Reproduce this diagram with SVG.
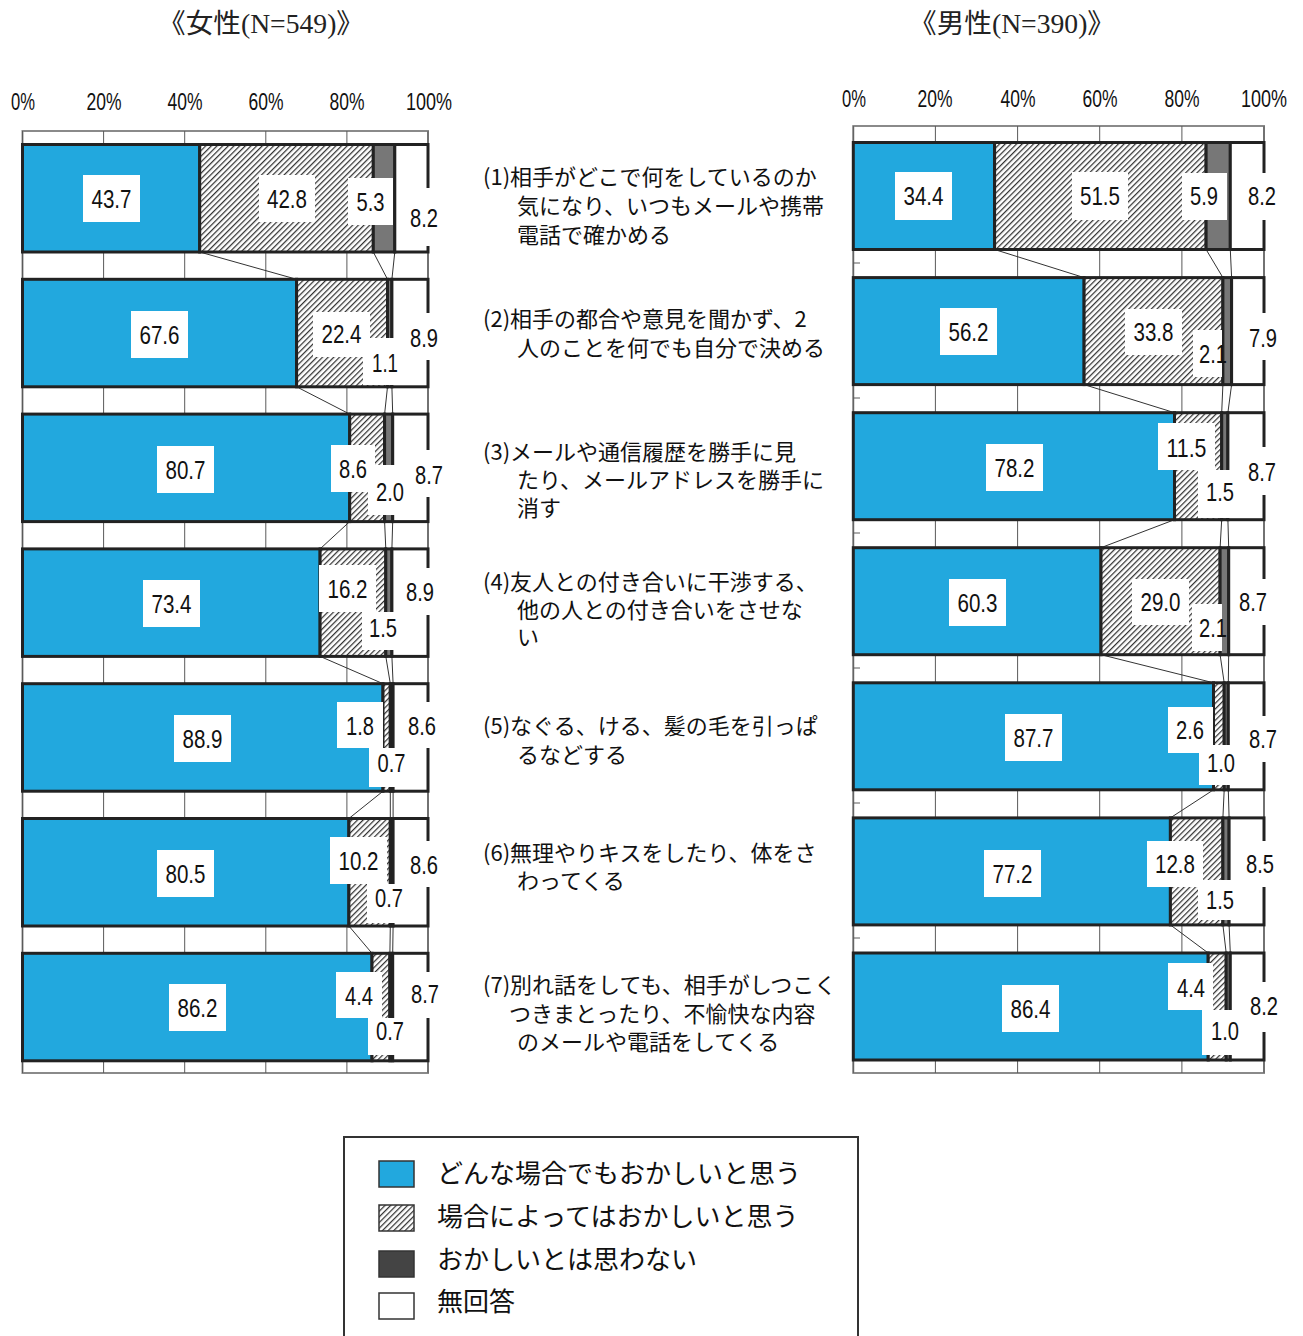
<svg xmlns="http://www.w3.org/2000/svg" width="1303" height="1336" viewBox="0 0 1303 1336">
<defs>
<pattern id="hatch" patternUnits="userSpaceOnUse" width="4" height="4" patternTransform="rotate(45)">
<rect width="4" height="4" fill="#fff"/>
<line x1="0" y1="0" x2="0" y2="4" stroke="#333" stroke-width="2.5"/>
</pattern>
<style>
.t{font-family:"Liberation Serif","Noto Sans CJK JP",serif;font-size:27px;fill:#222}
.ax{font-family:"Liberation Sans Narrow","Liberation Sans",sans-serif;font-size:23px;fill:#111;text-anchor:middle}
.frame{fill:#fff;stroke:#8a8a8a;stroke-width:2}
.grid{stroke:#5a5a5a;stroke-width:1}
.seg{stroke:#222;stroke-width:3}
.b{fill:#22a8de}.h{fill:url(#hatch)}.d{fill:#777}.w{fill:#fff}
.lb rect{fill:#fff}
.lb text{font-family:"Liberation Sans Narrow","Liberation Sans",sans-serif;font-size:25px;fill:#111;text-anchor:middle}
.cat{font-family:"Noto Sans CJK JP",sans-serif;font-size:22px;fill:#111}
.sl{stroke:#333;stroke-width:1;fill:none}
.lg{font-family:"Noto Sans CJK JP",sans-serif;font-size:26px;fill:#111}
.sw{stroke:#333;stroke-width:1.5}
</style>
</defs>
<rect width="1303" height="1336" fill="#fff"/>

<!-- titles -->
<text class="t" x="158" y="33" textLength="206" lengthAdjust="spacingAndGlyphs">《女性(N=549)》</text>
<text class="t" x="909" y="33" textLength="206" lengthAdjust="spacingAndGlyphs">《男性(N=390)》</text>

<!-- left axis -->
<g id="axis-left">
<text class="ax" x="23" y="110" textLength="24" lengthAdjust="spacingAndGlyphs">0%</text>
<text class="ax" x="104" y="110" textLength="35" lengthAdjust="spacingAndGlyphs">20%</text>
<text class="ax" x="185" y="110" textLength="35" lengthAdjust="spacingAndGlyphs">40%</text>
<text class="ax" x="266" y="110" textLength="35" lengthAdjust="spacingAndGlyphs">60%</text>
<text class="ax" x="347" y="110" textLength="35" lengthAdjust="spacingAndGlyphs">80%</text>
<text class="ax" x="429" y="110" textLength="46" lengthAdjust="spacingAndGlyphs">100%</text>
<rect class="frame" x="22.5" y="131" width="405.5" height="942"/>
<line class="grid" x1="103.6" y1="131" x2="103.6" y2="1073"/>
<line class="grid" x1="184.7" y1="131" x2="184.7" y2="1073"/>
<line class="grid" x1="265.8" y1="131" x2="265.8" y2="1073"/>
<line class="grid" x1="346.9" y1="131" x2="346.9" y2="1073"/>
<line class="grid" x1="428" y1="131" x2="428" y2="1073"/>
<line class="grid" x1="22.5" y1="131" x2="22.5" y2="1073"/>
</g>

<!-- right axis -->
<g id="axis-right">
<text class="ax" x="854" y="107" textLength="24" lengthAdjust="spacingAndGlyphs">0%</text>
<text class="ax" x="935" y="107" textLength="35" lengthAdjust="spacingAndGlyphs">20%</text>
<text class="ax" x="1018" y="107" textLength="35" lengthAdjust="spacingAndGlyphs">40%</text>
<text class="ax" x="1100" y="107" textLength="35" lengthAdjust="spacingAndGlyphs">60%</text>
<text class="ax" x="1182" y="107" textLength="35" lengthAdjust="spacingAndGlyphs">80%</text>
<text class="ax" x="1264" y="107" textLength="46" lengthAdjust="spacingAndGlyphs">100%</text>
<rect class="frame" x="853.3" y="126" width="410.7" height="947"/>
<line class="grid" x1="935.4" y1="126" x2="935.4" y2="1073"/>
<line class="grid" x1="1017.6" y1="126" x2="1017.6" y2="1073"/>
<line class="grid" x1="1099.7" y1="126" x2="1099.7" y2="1073"/>
<line class="grid" x1="1181.9" y1="126" x2="1181.9" y2="1073"/>
<line class="grid" x1="1264" y1="126" x2="1264" y2="1073"/>
<line class="grid" x1="853.3" y1="126" x2="853.3" y2="1073"/>
<g class="grid">
<line x1="853.3" y1="263" x2="860" y2="263"/>
<line x1="853.3" y1="398" x2="860" y2="398"/>
<line x1="853.3" y1="533" x2="860" y2="533"/>
<line x1="853.3" y1="668" x2="860" y2="668"/>
<line x1="853.3" y1="803" x2="860" y2="803"/>
<line x1="853.3" y1="938" x2="860" y2="938"/>
</g>
</g>

<!-- connectors (series lines) -->
<g id="connectors" class="sl">
<line x1="199.7" y1="252" x2="296.6" y2="279.3"/><line x1="373.3" y1="252" x2="387.5" y2="279.3"/><line x1="394.8" y1="252" x2="391.9" y2="279.3"/>
<line x1="296.6" y1="386.8" x2="349.7" y2="414.1"/><line x1="387.5" y1="386.8" x2="384.6" y2="414.1"/><line x1="391.9" y1="386.8" x2="392.7" y2="414.1"/>
<line x1="349.7" y1="521.6" x2="320.1" y2="548.9"/><line x1="384.6" y1="521.6" x2="385.8" y2="548.9"/><line x1="392.7" y1="521.6" x2="391.9" y2="548.9"/>
<line x1="320.1" y1="656.4" x2="383" y2="683.7"/><line x1="385.8" y1="656.4" x2="390.3" y2="683.7"/><line x1="391.9" y1="656.4" x2="393.1" y2="683.7"/>
<line x1="383" y1="791.2" x2="348.9" y2="818.5"/><line x1="390.3" y1="791.2" x2="390.3" y2="818.5"/><line x1="393.1" y1="791.2" x2="393.1" y2="818.5"/>
<line x1="348.9" y1="926" x2="372" y2="953.3"/><line x1="390.3" y1="926" x2="389.9" y2="953.3"/><line x1="393.1" y1="926" x2="392.7" y2="953.3"/>
<line x1="994.6" y1="249.5" x2="1084.1" y2="277.6"/><line x1="1206.1" y1="249.5" x2="1222.9" y2="277.6"/><line x1="1230.3" y1="249.5" x2="1231.6" y2="277.6"/>
<line x1="1084.1" y1="384.6" x2="1174.5" y2="412.7"/><line x1="1222.9" y1="384.6" x2="1221.7" y2="412.7"/><line x1="1231.6" y1="384.6" x2="1227.9" y2="412.7"/>
<line x1="1174.5" y1="519.7" x2="1101" y2="547.7"/><line x1="1221.7" y1="519.7" x2="1220.1" y2="547.7"/><line x1="1227.9" y1="519.7" x2="1228.7" y2="547.7"/>
<line x1="1101" y1="654.7" x2="1213.5" y2="682.8"/><line x1="1220.1" y1="654.7" x2="1224.2" y2="682.8"/><line x1="1228.7" y1="654.7" x2="1228.3" y2="682.8"/>
<line x1="1213.5" y1="789.8" x2="1170.4" y2="817.9"/><line x1="1224.2" y1="789.8" x2="1222.9" y2="817.9"/><line x1="1228.3" y1="789.8" x2="1229.1" y2="817.9"/>
<line x1="1170.4" y1="924.9" x2="1208.2" y2="953"/><line x1="1222.9" y1="924.9" x2="1226.2" y2="953"/><line x1="1229.1" y1="924.9" x2="1230.3" y2="953"/>
</g>

<!-- LEFT BARS -->
<g id="f1">
<rect class="seg b" x="22.5" y="144.5" width="177.2" height="107.5"/><rect class="seg h" x="199.7" y="144.5" width="173.6" height="107.5"/><rect class="seg d" x="373.3" y="144.5" width="21.5" height="107.5"/><rect class="seg w" x="394.8" y="144.5" width="33.2" height="107.5"/>
<g class="lb"><rect x="83" y="175" width="57" height="47"/><text x="111.5" y="208" textLength="40" lengthAdjust="spacingAndGlyphs">43.7</text></g>
<g class="lb"><rect x="259" y="175" width="56" height="47"/><text x="287" y="208" textLength="40" lengthAdjust="spacingAndGlyphs">42.8</text></g>
<g class="lb"><rect x="348" y="178" width="45" height="47"/><text x="370.5" y="211" textLength="28" lengthAdjust="spacingAndGlyphs">5.3</text></g>
<g class="lb"><rect x="403" y="188" width="42" height="58"/><text x="424" y="227" textLength="28" lengthAdjust="spacingAndGlyphs">8.2</text></g>
</g>
<g id="f2">
<rect class="seg b" x="22.5" y="279.3" width="274.1" height="107.5"/><rect class="seg h" x="296.6" y="279.3" width="90.9" height="107.5"/><rect class="seg d" x="387.5" y="279.3" width="4.4" height="107.5"/><rect class="seg w" x="391.9" y="279.3" width="36.1" height="107.5"/>
<g class="lb"><rect x="131" y="311" width="57" height="47"/><text x="159.5" y="344" textLength="40" lengthAdjust="spacingAndGlyphs">67.6</text></g>
<g class="lb"><rect x="313" y="312" width="57" height="45"/><text x="341.5" y="343" textLength="40" lengthAdjust="spacingAndGlyphs">22.4</text></g>
<g class="lb"><rect x="363" y="338" width="44" height="47"/><text x="385" y="372" textLength="26" lengthAdjust="spacingAndGlyphs">1.1</text></g>
<g class="lb"><rect x="408" y="313" width="32" height="47"/><text x="424" y="347" textLength="28" lengthAdjust="spacingAndGlyphs">8.9</text></g>
</g>
<g id="f3">
<rect class="seg b" x="22.5" y="414.1" width="327.2" height="107.5"/><rect class="seg h" x="349.7" y="414.1" width="34.9" height="107.5"/><rect class="seg d" x="384.6" y="414.1" width="8.1" height="107.5"/><rect class="seg w" x="392.7" y="414.1" width="35.3" height="107.5"/>
<g class="lb"><rect x="157" y="446" width="57" height="47"/><text x="185.5" y="479" textLength="40" lengthAdjust="spacingAndGlyphs">80.7</text></g>
<g class="lb"><rect x="331" y="445" width="44" height="47"/><text x="353" y="478" textLength="28" lengthAdjust="spacingAndGlyphs">8.6</text></g>
<g class="lb"><rect x="368" y="465" width="44" height="50"/><text x="390" y="501" textLength="28" lengthAdjust="spacingAndGlyphs">2.0</text></g>
<g class="lb"><rect x="412" y="450" width="34" height="47"/><text x="429" y="484" textLength="28" lengthAdjust="spacingAndGlyphs">8.7</text></g>
</g>
<g id="f4">
<rect class="seg b" x="22.5" y="548.9" width="297.6" height="107.5"/><rect class="seg h" x="320.1" y="548.9" width="65.7" height="107.5"/><rect class="seg d" x="385.8" y="548.9" width="6.1" height="107.5"/><rect class="seg w" x="391.9" y="548.9" width="36.1" height="107.5"/>
<g class="lb"><rect x="143" y="580" width="57" height="47"/><text x="171.5" y="613" textLength="40" lengthAdjust="spacingAndGlyphs">73.4</text></g>
<g class="lb"><rect x="319" y="565" width="57" height="47"/><text x="347.5" y="598" textLength="40" lengthAdjust="spacingAndGlyphs">16.2</text></g>
<g class="lb"><rect x="362" y="612" width="44" height="38"/><text x="383" y="637" textLength="28" lengthAdjust="spacingAndGlyphs">1.5</text></g>
<g class="lb"><rect x="403" y="568" width="34" height="47"/><text x="420" y="601" textLength="28" lengthAdjust="spacingAndGlyphs">8.9</text></g>
</g>
<g id="f5">
<rect class="seg b" x="22.5" y="683.7" width="360.5" height="107.5"/><rect class="seg h" x="383" y="683.7" width="7.3" height="107.5"/><rect class="seg d" x="390.3" y="683.7" width="2.8" height="107.5"/><rect class="seg w" x="393.1" y="683.7" width="34.9" height="107.5"/>
<g class="lb"><rect x="174" y="715" width="57" height="47"/><text x="202.5" y="748" textLength="40" lengthAdjust="spacingAndGlyphs">88.9</text></g>
<g class="lb"><rect x="337" y="702" width="46" height="46"/><text x="360" y="735" textLength="28" lengthAdjust="spacingAndGlyphs">1.8</text></g>
<g class="lb"><rect x="369" y="748" width="44" height="39"/><text x="391.5" y="772" textLength="28" lengthAdjust="spacingAndGlyphs">0.7</text></g>
<g class="lb"><rect x="408" y="702" width="30" height="46"/><text x="422" y="735" textLength="28" lengthAdjust="spacingAndGlyphs">8.6</text></g>
</g>
<g id="f6">
<rect class="seg b" x="22.5" y="818.5" width="326.4" height="107.5"/><rect class="seg h" x="348.9" y="818.5" width="41.4" height="107.5"/><rect class="seg d" x="390.3" y="818.5" width="2.8" height="107.5"/><rect class="seg w" x="393.1" y="818.5" width="34.9" height="107.5"/>
<g class="lb"><rect x="157" y="850" width="57" height="47"/><text x="185.5" y="883" textLength="40" lengthAdjust="spacingAndGlyphs">80.5</text></g>
<g class="lb"><rect x="330" y="837" width="57" height="47"/><text x="358.5" y="870" textLength="40" lengthAdjust="spacingAndGlyphs">10.2</text></g>
<g class="lb"><rect x="367" y="884" width="44" height="39"/><text x="389" y="907" textLength="28" lengthAdjust="spacingAndGlyphs">0.7</text></g>
<g class="lb"><rect x="408" y="841" width="34" height="46"/><text x="424" y="874" textLength="28" lengthAdjust="spacingAndGlyphs">8.6</text></g>
</g>
<g id="f7">
<rect class="seg b" x="22.5" y="953.3" width="349.5" height="107.5"/><rect class="seg h" x="372" y="953.3" width="17.9" height="107.5"/><rect class="seg d" x="389.9" y="953.3" width="2.8" height="107.5"/><rect class="seg w" x="392.7" y="953.3" width="35.3" height="107.5"/>
<g class="lb"><rect x="169" y="984" width="57" height="47"/><text x="197.5" y="1017" textLength="40" lengthAdjust="spacingAndGlyphs">86.2</text></g>
<g class="lb"><rect x="336" y="972" width="46" height="46"/><text x="359" y="1005" textLength="28" lengthAdjust="spacingAndGlyphs">4.4</text></g>
<g class="lb"><rect x="368" y="1018" width="44" height="37"/><text x="390" y="1040" textLength="28" lengthAdjust="spacingAndGlyphs">0.7</text></g>
<g class="lb"><rect x="409" y="972" width="34" height="46"/><text x="425" y="1003" textLength="28" lengthAdjust="spacingAndGlyphs">8.7</text></g>
</g>

<!-- RIGHT BARS -->
<g id="m1">
<rect class="seg b" x="853.3" y="142.5" width="141.3" height="107"/><rect class="seg h" x="994.6" y="142.5" width="211.5" height="107"/><rect class="seg d" x="1206.1" y="142.5" width="24.2" height="107"/><rect class="seg w" x="1230.3" y="142.5" width="33.7" height="107"/>
<g class="lb"><rect x="895" y="172" width="57" height="48"/><text x="923.5" y="205" textLength="40" lengthAdjust="spacingAndGlyphs">34.4</text></g>
<g class="lb"><rect x="1072" y="172" width="56" height="48"/><text x="1100" y="205" textLength="40" lengthAdjust="spacingAndGlyphs">51.5</text></g>
<g class="lb"><rect x="1182" y="173" width="45" height="47"/><text x="1204" y="205" textLength="28" lengthAdjust="spacingAndGlyphs">5.9</text></g>
<g class="lb"><rect x="1246" y="173" width="34" height="47"/><text x="1262" y="205" textLength="28" lengthAdjust="spacingAndGlyphs">8.2</text></g>
</g>
<g id="m2">
<rect class="seg b" x="853.3" y="277.6" width="230.8" height="107"/><rect class="seg h" x="1084.1" y="277.6" width="138.8" height="107"/><rect class="seg d" x="1222.9" y="277.6" width="8.7" height="107"/><rect class="seg w" x="1231.6" y="277.6" width="32.4" height="107"/>
<g class="lb"><rect x="940" y="308" width="57" height="47"/><text x="968.5" y="341" textLength="40" lengthAdjust="spacingAndGlyphs">56.2</text></g>
<g class="lb"><rect x="1125" y="309" width="57" height="46"/><text x="1153.5" y="341" textLength="40" lengthAdjust="spacingAndGlyphs">33.8</text></g>
<g class="lb"><rect x="1193" y="330" width="29" height="47"/><text x="1213" y="363" textLength="28" lengthAdjust="spacingAndGlyphs">2.1</text></g>
<g class="lb"><rect x="1246" y="313" width="34" height="47"/><text x="1263" y="347" textLength="28" lengthAdjust="spacingAndGlyphs">7.9</text></g>
</g>
<g id="m3">
<rect class="seg b" x="853.3" y="412.7" width="321.2" height="107"/><rect class="seg h" x="1174.5" y="412.7" width="47.2" height="107"/><rect class="seg d" x="1221.7" y="412.7" width="6.2" height="107"/><rect class="seg w" x="1227.9" y="412.7" width="36.1" height="107"/>
<g class="lb"><rect x="986" y="444" width="57" height="47"/><text x="1014.5" y="477" textLength="40" lengthAdjust="spacingAndGlyphs">78.2</text></g>
<g class="lb"><rect x="1158" y="423" width="57" height="47"/><text x="1186.5" y="457" textLength="40" lengthAdjust="spacingAndGlyphs">11.5</text></g>
<g class="lb"><rect x="1198" y="470" width="44" height="48"/><text x="1220" y="501" textLength="28" lengthAdjust="spacingAndGlyphs">1.5</text></g>
<g class="lb"><rect x="1246" y="447" width="34" height="48"/><text x="1262" y="481" textLength="28" lengthAdjust="spacingAndGlyphs">8.7</text></g>
</g>
<g id="m4">
<rect class="seg b" x="853.3" y="547.7" width="247.7" height="107"/><rect class="seg h" x="1101" y="547.7" width="119.1" height="107"/><rect class="seg d" x="1220.1" y="547.7" width="8.6" height="107"/><rect class="seg w" x="1228.7" y="547.7" width="35.3" height="107"/>
<g class="lb"><rect x="949" y="579" width="57" height="47"/><text x="977.5" y="612" textLength="40" lengthAdjust="spacingAndGlyphs">60.3</text></g>
<g class="lb"><rect x="1132" y="579" width="57" height="46"/><text x="1160.5" y="611" textLength="40" lengthAdjust="spacingAndGlyphs">29.0</text></g>
<g class="lb"><rect x="1192" y="604" width="30" height="47"/><text x="1213" y="637" textLength="28" lengthAdjust="spacingAndGlyphs">2.1</text></g>
<g class="lb"><rect x="1236" y="579" width="34" height="46"/><text x="1253" y="611" textLength="28" lengthAdjust="spacingAndGlyphs">8.7</text></g>
</g>
<g id="m5">
<rect class="seg b" x="853.3" y="682.8" width="360.2" height="107"/><rect class="seg h" x="1213.5" y="682.8" width="10.7" height="107"/><rect class="seg d" x="1224.2" y="682.8" width="4.1" height="107"/><rect class="seg w" x="1228.3" y="682.8" width="35.7" height="107"/>
<g class="lb"><rect x="1005" y="714" width="57" height="47"/><text x="1033.5" y="747" textLength="40" lengthAdjust="spacingAndGlyphs">87.7</text></g>
<g class="lb"><rect x="1168" y="707" width="45" height="46"/><text x="1190" y="739" textLength="28" lengthAdjust="spacingAndGlyphs">2.6</text></g>
<g class="lb"><rect x="1199" y="745" width="33" height="40"/><text x="1221" y="772" textLength="28" lengthAdjust="spacingAndGlyphs">1.0</text></g>
<g class="lb"><rect x="1246" y="716" width="34" height="46"/><text x="1263" y="748" textLength="28" lengthAdjust="spacingAndGlyphs">8.7</text></g>
</g>
<g id="m6">
<rect class="seg b" x="853.3" y="817.9" width="317.1" height="107"/><rect class="seg h" x="1170.4" y="817.9" width="52.5" height="107"/><rect class="seg d" x="1222.9" y="817.9" width="6.2" height="107"/><rect class="seg w" x="1229.1" y="817.9" width="34.9" height="107"/>
<g class="lb"><rect x="984" y="850" width="57" height="47"/><text x="1012.5" y="883" textLength="40" lengthAdjust="spacingAndGlyphs">77.2</text></g>
<g class="lb"><rect x="1147" y="841" width="56" height="46"/><text x="1175" y="873" textLength="40" lengthAdjust="spacingAndGlyphs">12.8</text></g>
<g class="lb"><rect x="1198" y="880" width="44" height="40"/><text x="1220" y="909" textLength="28" lengthAdjust="spacingAndGlyphs">1.5</text></g>
<g class="lb"><rect x="1243" y="841" width="34" height="46"/><text x="1260" y="873" textLength="28" lengthAdjust="spacingAndGlyphs">8.5</text></g>
</g>
<g id="m7">
<rect class="seg b" x="853.3" y="953" width="354.9" height="107"/><rect class="seg h" x="1208.2" y="953" width="18" height="107"/><rect class="seg d" x="1226.2" y="953" width="4.1" height="107"/><rect class="seg w" x="1230.3" y="953" width="33.7" height="107"/>
<g class="lb"><rect x="1002" y="985" width="57" height="47"/><text x="1030.5" y="1018" textLength="40" lengthAdjust="spacingAndGlyphs">86.4</text></g>
<g class="lb"><rect x="1168" y="963" width="45" height="47"/><text x="1191" y="997" textLength="28" lengthAdjust="spacingAndGlyphs">4.4</text></g>
<g class="lb"><rect x="1202" y="1010" width="40" height="45"/><text x="1225" y="1040" textLength="28" lengthAdjust="spacingAndGlyphs">1.0</text></g>
<g class="lb"><rect x="1247" y="982" width="34" height="50"/><text x="1264" y="1015" textLength="28" lengthAdjust="spacingAndGlyphs">8.2</text></g>
</g>

<!-- category labels -->
<g id="cat1" class="cat">
<text x="483" y="185">(1)相手がどこで何をしているのか</text>
<text x="517" y="214">気になり、いつもメールや携帯</text>
<text x="517" y="243">電話で確かめる</text>
</g>
<g id="cat2" class="cat">
<text x="483" y="327">(2)相手の都合や意見を聞かず、2</text>
<text x="517" y="356">人のことを何でも自分で決める</text>
</g>
<g id="cat3" class="cat">
<text x="483" y="460">(3)メールや通信履歴を勝手に見</text>
<text x="517" y="488">たり、メールアドレスを勝手に</text>
<text x="517" y="516">消す</text>
</g>
<g id="cat4" class="cat">
<text x="483" y="590">(4)友人との付き合いに干渉する、</text>
<text x="517" y="618">他の人との付き合いをさせな</text>
<text x="517" y="645">い</text>
</g>
<g id="cat5" class="cat">
<text x="483" y="734">(5)なぐる、ける、髪の毛を引っぱ</text>
<text x="517" y="763">るなどする</text>
</g>
<g id="cat6" class="cat">
<text x="483" y="861">(6)無理やりキスをしたり、体をさ</text>
<text x="517" y="889">わってくる</text>
</g>
<g id="cat7" class="cat">
<text x="483" y="993">(7)別れ話をしても、相手がしつこく</text>
<text x="509" y="1022">つきまとったり、不愉快な内容</text>
<text x="517" y="1050">のメールや電話をしてくる</text>
</g>

<!-- legend -->
<g id="legend">
<rect x="344" y="1137" width="514" height="210" fill="#fff" stroke="#333" stroke-width="2"/>
<rect class="sw" x="379" y="1161" width="35" height="26" fill="#22a8de"/>
<rect class="sw" x="379" y="1205" width="35" height="26" fill="url(#hatch)"/>
<rect class="sw" x="379" y="1251" width="35" height="26" fill="#444"/>
<rect class="sw" x="379" y="1293" width="35" height="26" fill="#fff"/>
<text class="lg" x="437" y="1183">どんな場合でもおかしいと思う</text>
<text class="lg" x="437" y="1226">場合によってはおかしいと思う</text>
<text class="lg" x="437" y="1269">おかしいとは思わない</text>
<text class="lg" x="437" y="1311">無回答</text>
</g>
</svg>
